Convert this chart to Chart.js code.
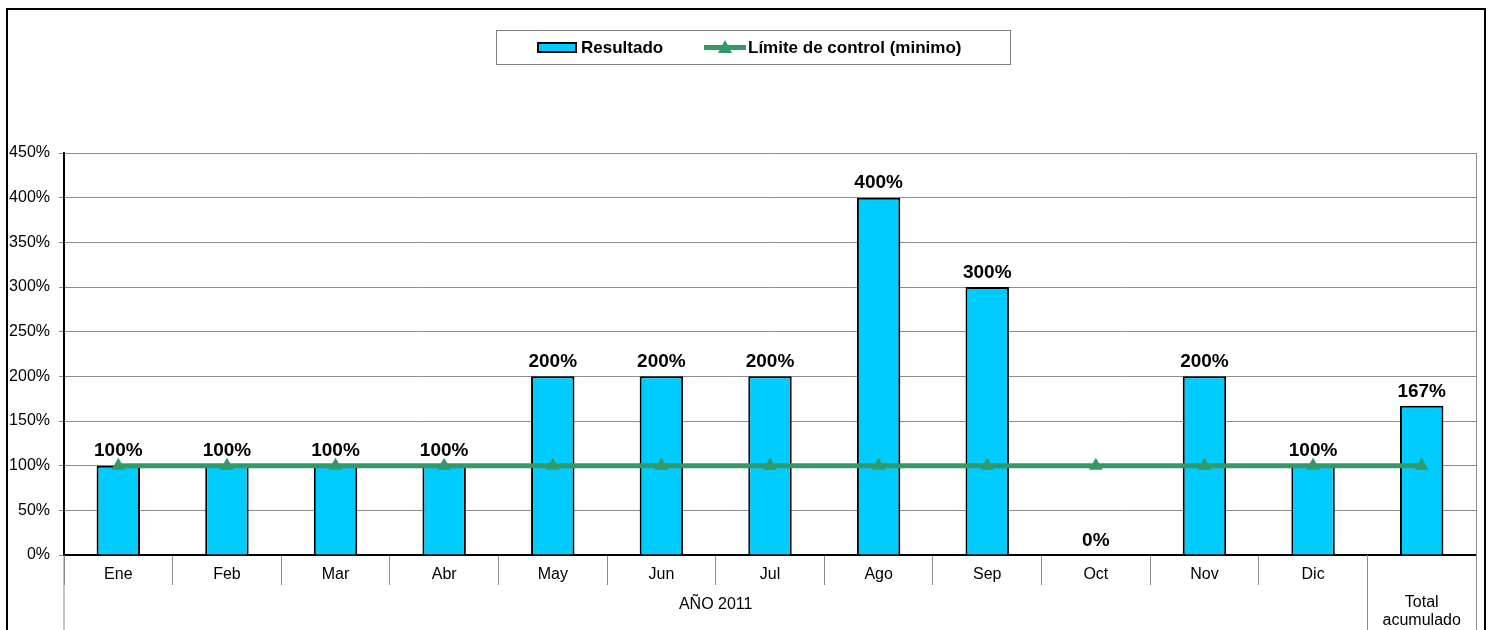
<!DOCTYPE html>
<html>
<head>
<meta charset="utf-8">
<script src="https://cdn.jsdelivr.net/npm/chart.js@4"></script>
<style>
  html, body { margin: 0; padding: 0; background: #fff; }
  #wrap { width: 1492px; height: 630px; }
</style>
</head>
<body>
<div id="wrap"><canvas id="grafico" width="1492" height="630"></canvas></div>
<script>
const categorias = ['Ene', 'Feb', 'Mar', 'Abr', 'May', 'Jun', 'Jul', 'Ago', 'Sep', 'Oct', 'Nov', 'Dic', 'Total acumulado'];
const resultado = [100, 100, 100, 100, 200, 200, 200, 400, 300, 0, 200, 100, 167];
const limite = [100, 100, 100, 100, 100, 100, 100, 100, 100, 100, 100, 100, 100];
const yTicks = [0, 50, 100, 150, 200, 250, 300, 350, 400, 450];
const grupoMeses = 'AÑO 2011';
const grupoTotal = ['Total', 'acumulado'];

const FUENTE = '"Liberation Sans", Arial, sans-serif';
const AZUL = '#00CCFF';
const VERDE = '#339966';
const GRIS = '#8c8c8c';

const marco = {
    id: 'marco',
    beforeDraw(chart) {
        const ctx = chart.ctx;
        ctx.save();
        ctx.fillStyle = '#fff';
        ctx.fillRect(0, 0, chart.width, chart.height);
        ctx.restore();
    },
    afterDatasetsDraw(chart) {
        const ctx = chart.ctx;
        const meta = chart.getDatasetMeta(1);
        ctx.save();
        ctx.font = 'bold 19px ' + FUENTE;
        ctx.fillStyle = '#000';
        ctx.textAlign = 'center';
        ctx.textBaseline = 'bottom';
        meta.data.forEach((bar, i) => {
            ctx.fillText(resultado[i] + '%', bar.x, bar.y - 5);
        });
        ctx.restore();
    },
    afterDraw(chart) {
        const ctx = chart.ctx;
        const area = chart.chartArea;
        const x = chart.scales.x;
        const sep = (x.getPixelForValue(11) + x.getPixelForValue(12)) / 2;

        ctx.save();
        // right edge of plot area and long separators
        ctx.strokeStyle = GRIS;
        ctx.lineWidth = 1;
        ctx.beginPath();
        ctx.moveTo(area.right + 0.5, area.top);
        ctx.lineTo(area.right + 0.5, chart.height);
        ctx.moveTo(area.left, area.bottom);
        ctx.lineTo(area.left, chart.height);
        ctx.moveTo(Math.round(sep) + 0.5, area.bottom);
        ctx.lineTo(Math.round(sep) + 0.5, chart.height);
        ctx.stroke();

        // group labels
        ctx.fillStyle = '#000';
        ctx.font = '16px ' + FUENTE;
        ctx.textAlign = 'center';
        ctx.textBaseline = 'middle';
        ctx.fillText(grupoMeses, (area.left + sep) / 2, 605);
        ctx.fillText(grupoTotal[0], (sep + area.right) / 2, 603);
        ctx.fillText(grupoTotal[1], (sep + area.right) / 2, 621);

        // legend
        ctx.strokeStyle = '#808080';
        ctx.lineWidth = 1;
        ctx.strokeRect(496.5, 30.5, 514, 34);
        ctx.fillStyle = AZUL;
        ctx.fillRect(538, 43, 38, 9);
        ctx.strokeStyle = '#000';
        ctx.lineWidth = 2;
        ctx.strokeRect(538, 43, 38, 9);
        ctx.strokeStyle = VERDE;
        ctx.lineWidth = 5;
        ctx.beginPath();
        ctx.moveTo(704, 47.5);
        ctx.lineTo(746, 47.5);
        ctx.stroke();
        ctx.fillStyle = VERDE;
        ctx.beginPath();
        ctx.moveTo(725, 40);
        ctx.lineTo(732, 53);
        ctx.lineTo(718, 53);
        ctx.closePath();
        ctx.fill();
        ctx.fillStyle = '#000';
        ctx.font = 'bold 17px ' + FUENTE;
        ctx.textAlign = 'left';
        ctx.fillText(chart.data.datasets[1].label, 581, 48);
        ctx.fillText(chart.data.datasets[0].label, 748, 48);

        // outer frame
        ctx.strokeStyle = '#000';
        ctx.lineWidth = 2;
        ctx.strokeRect(7, 9, 1478, 700);
        ctx.restore();
    }
};

new Chart(document.getElementById('grafico'), {
    type: 'bar',
    data: {
        labels: categorias,
        datasets: [
            {
                type: 'line',
                label: 'Límite de control (minimo)',
                data: limite,
                borderColor: VERDE,
                backgroundColor: VERDE,
                borderWidth: 5,
                pointStyle: 'triangle',
                pointRadius: 8,
                pointBorderWidth: 0,
                pointBackgroundColor: VERDE,
                order: 0
            },
            {
                type: 'bar',
                label: 'Resultado',
                data: resultado,
                backgroundColor: AZUL,
                borderColor: '#000',
                borderWidth: 2,
                barPercentage: 0.4,
                categoryPercentage: 1,
                order: 1
            }
        ]
    },
    options: {
        responsive: false,
        animation: false,
        layout: { padding: { top: 153, left: 0, right: 16, bottom: 0 } },
        plugins: {
            legend: { display: false },
            tooltip: { enabled: false }
        },
        scales: {
            x: {
                afterFit: s => { s.height = 75; },
                grid: {
                    offset: true,
                    drawOnChartArea: false,
                    tickLength: 30,
                    color: GRIS
                },
                border: { color: '#000', width: 2 },
                ticks: {
                    padding: -20,
                    color: '#000',
                    font: { family: FUENTE, size: 16 },
                    maxRotation: 0,
                    autoSkip: false,
                    callback: (v, i) => i < 12 ? categorias[i] : ''
                }
            },
            y: {
                min: 0,
                max: 450,
                afterFit: s => { s.width = 64; },
                afterBuildTicks: s => { s.ticks = yTicks.map(v => ({ value: v })); },
                grid: { color: GRIS, tickLength: 5 },
                border: { color: '#000', width: 2 },
                ticks: {
                    padding: 9,
                    color: '#000',
                    font: { family: FUENTE, size: 16 },
                    callback: v => v + '%'
                }
            }
        }
    },
    plugins: [marco]
});
</script>
</body>
</html>
